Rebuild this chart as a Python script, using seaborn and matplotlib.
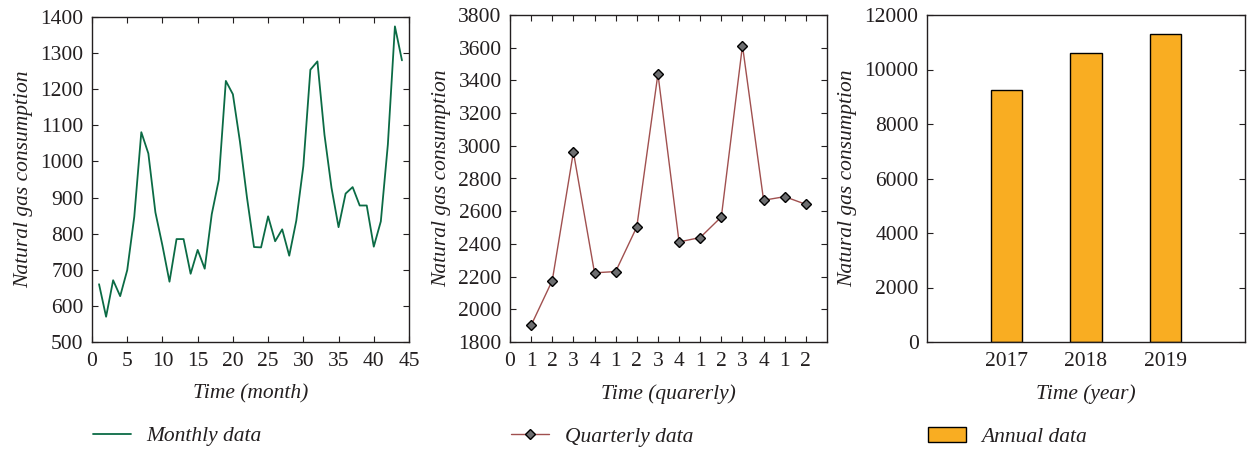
import matplotlib
matplotlib.use("Agg")
import matplotlib.pyplot as plt
import seaborn as sns
import pandas as pd

# monthly natural gas consumption (months 1..44)
months = list(range(1, 45))
monthly = [660, 570, 671, 627, 699, 847, 1081, 1022, 859, 767,
           667, 785, 785, 689, 755, 703, 854, 949, 1223, 1186,
           1055, 900, 763, 762, 848, 779, 812, 739, 836, 987,
           1254, 1277, 1074, 927, 818, 911, 929, 878, 878, 764,
           834, 1047, 1374, 1280]

# quarterly data (positions 1..14)
quarter_pos = list(range(1, 15))
quarterly = [1902, 2176, 2962, 2223, 2231, 2504, 3440, 2412,
             2439, 2565, 3613, 2667, 2689, 2642]
quarter_ticks = ["0", "1", "2", "3", "4", "1", "2", "3", "4",
                 "1", "2", "3", "4", "1", "2"]

# annual data
years = ["2017", "2018", "2019"]
annual = [9260, 10590, 11290]

sns.set_style("ticks")
plt.rcParams["font.family"] = ["Liberation Serif", "DejaVu Serif"]
plt.rcParams["axes.edgecolor"] = "#231f20"
plt.rcParams["axes.linewidth"] = 1.0
plt.rcParams["xtick.color"] = "#231f20"
plt.rcParams["ytick.color"] = "#231f20"
plt.rcParams["text.color"] = "#231f20"
plt.rcParams["axes.labelcolor"] = "#231f20"

FS = 15.5
W, H = 1250, 451
fig = plt.figure(figsize=(W / 100, H / 100), dpi=100)


def px_axes(x0, x1, y0, y1):
    return fig.add_axes([x0 / W, (H - y1) / H, (x1 - x0) / W, (y1 - y0) / H])


def style(ax, xlabel):
    ax.tick_params(direction="in", top=True, right=True, labelsize=FS,
                   length=4, width=0.8)
    ax.tick_params(axis="x", pad=7)
    ax.tick_params(axis="y", pad=6)
    ax.set_xlabel(xlabel, fontsize=FS, style="italic", labelpad=10)
    ax.set_ylabel("Natural gas consumption", fontsize=FS, style="italic",
                  labelpad=5)
    for s in ax.spines.values():
        s.set_visible(True)


# ---- monthly ----
ax1 = px_axes(92, 409, 17, 342)
df_m = pd.DataFrame({"month": months, "value": monthly})
sns.lineplot(data=df_m, x="month", y="value", ax=ax1, color="#0b6b45",
             linewidth=1.3, label="Monthly data")
ax1.set_xlim(0, 45)
ax1.set_ylim(500, 1400)
ax1.set_xticks(range(0, 46, 5))
ax1.set_yticks(range(500, 1401, 100))
style(ax1, "Time (month)")

# ---- quarterly ----
ax2 = px_axes(510, 827, 15, 342)
df_q = pd.DataFrame({"pos": quarter_pos, "value": quarterly})
sns.lineplot(data=df_q, x="pos", y="value", ax=ax2, color="#a0504f",
             linewidth=1.0, marker="D", markersize=5.6,
             markerfacecolor="#6d6e70", markeredgecolor="black",
             markeredgewidth=1.0, label="Quarterly data")
ax2.set_xlim(0, 15)
ax2.set_ylim(1800, 3800)
ax2.set_xticks(range(0, 15))
ax2.set_xticklabels(quarter_ticks)
ax2.set_yticks(range(1800, 3801, 200))
style(ax2, "Time (quarerly)")

# ---- annual ----
ax3 = px_axes(927, 1245, 15, 342)
df_a = pd.DataFrame({"year": years, "value": annual})
sns.barplot(data=df_a, x="year", y="value", ax=ax3, color="#f9ad22",
            saturation=1, width=0.4, edgecolor="black", linewidth=1.0,
            label="Annual data")
ax3.set_xlim(-1, 3)
ax3.set_ylim(0, 12000)
ax3.set_yticks(range(0, 12001, 2000))
style(ax3, "Time (year)")
ax3.tick_params(axis="x", length=0)

for ax in (ax1, ax2, ax3):
    ax.legend(loc="center left", bbox_to_anchor=(-0.025, -0.29),
              borderaxespad=0, frameon=False,
              prop={"size": FS, "style": "italic"}, handlelength=1.8,
              handletextpad=0.7, markerscale=0.85)

fig.savefig("out.png", dpi=100)
